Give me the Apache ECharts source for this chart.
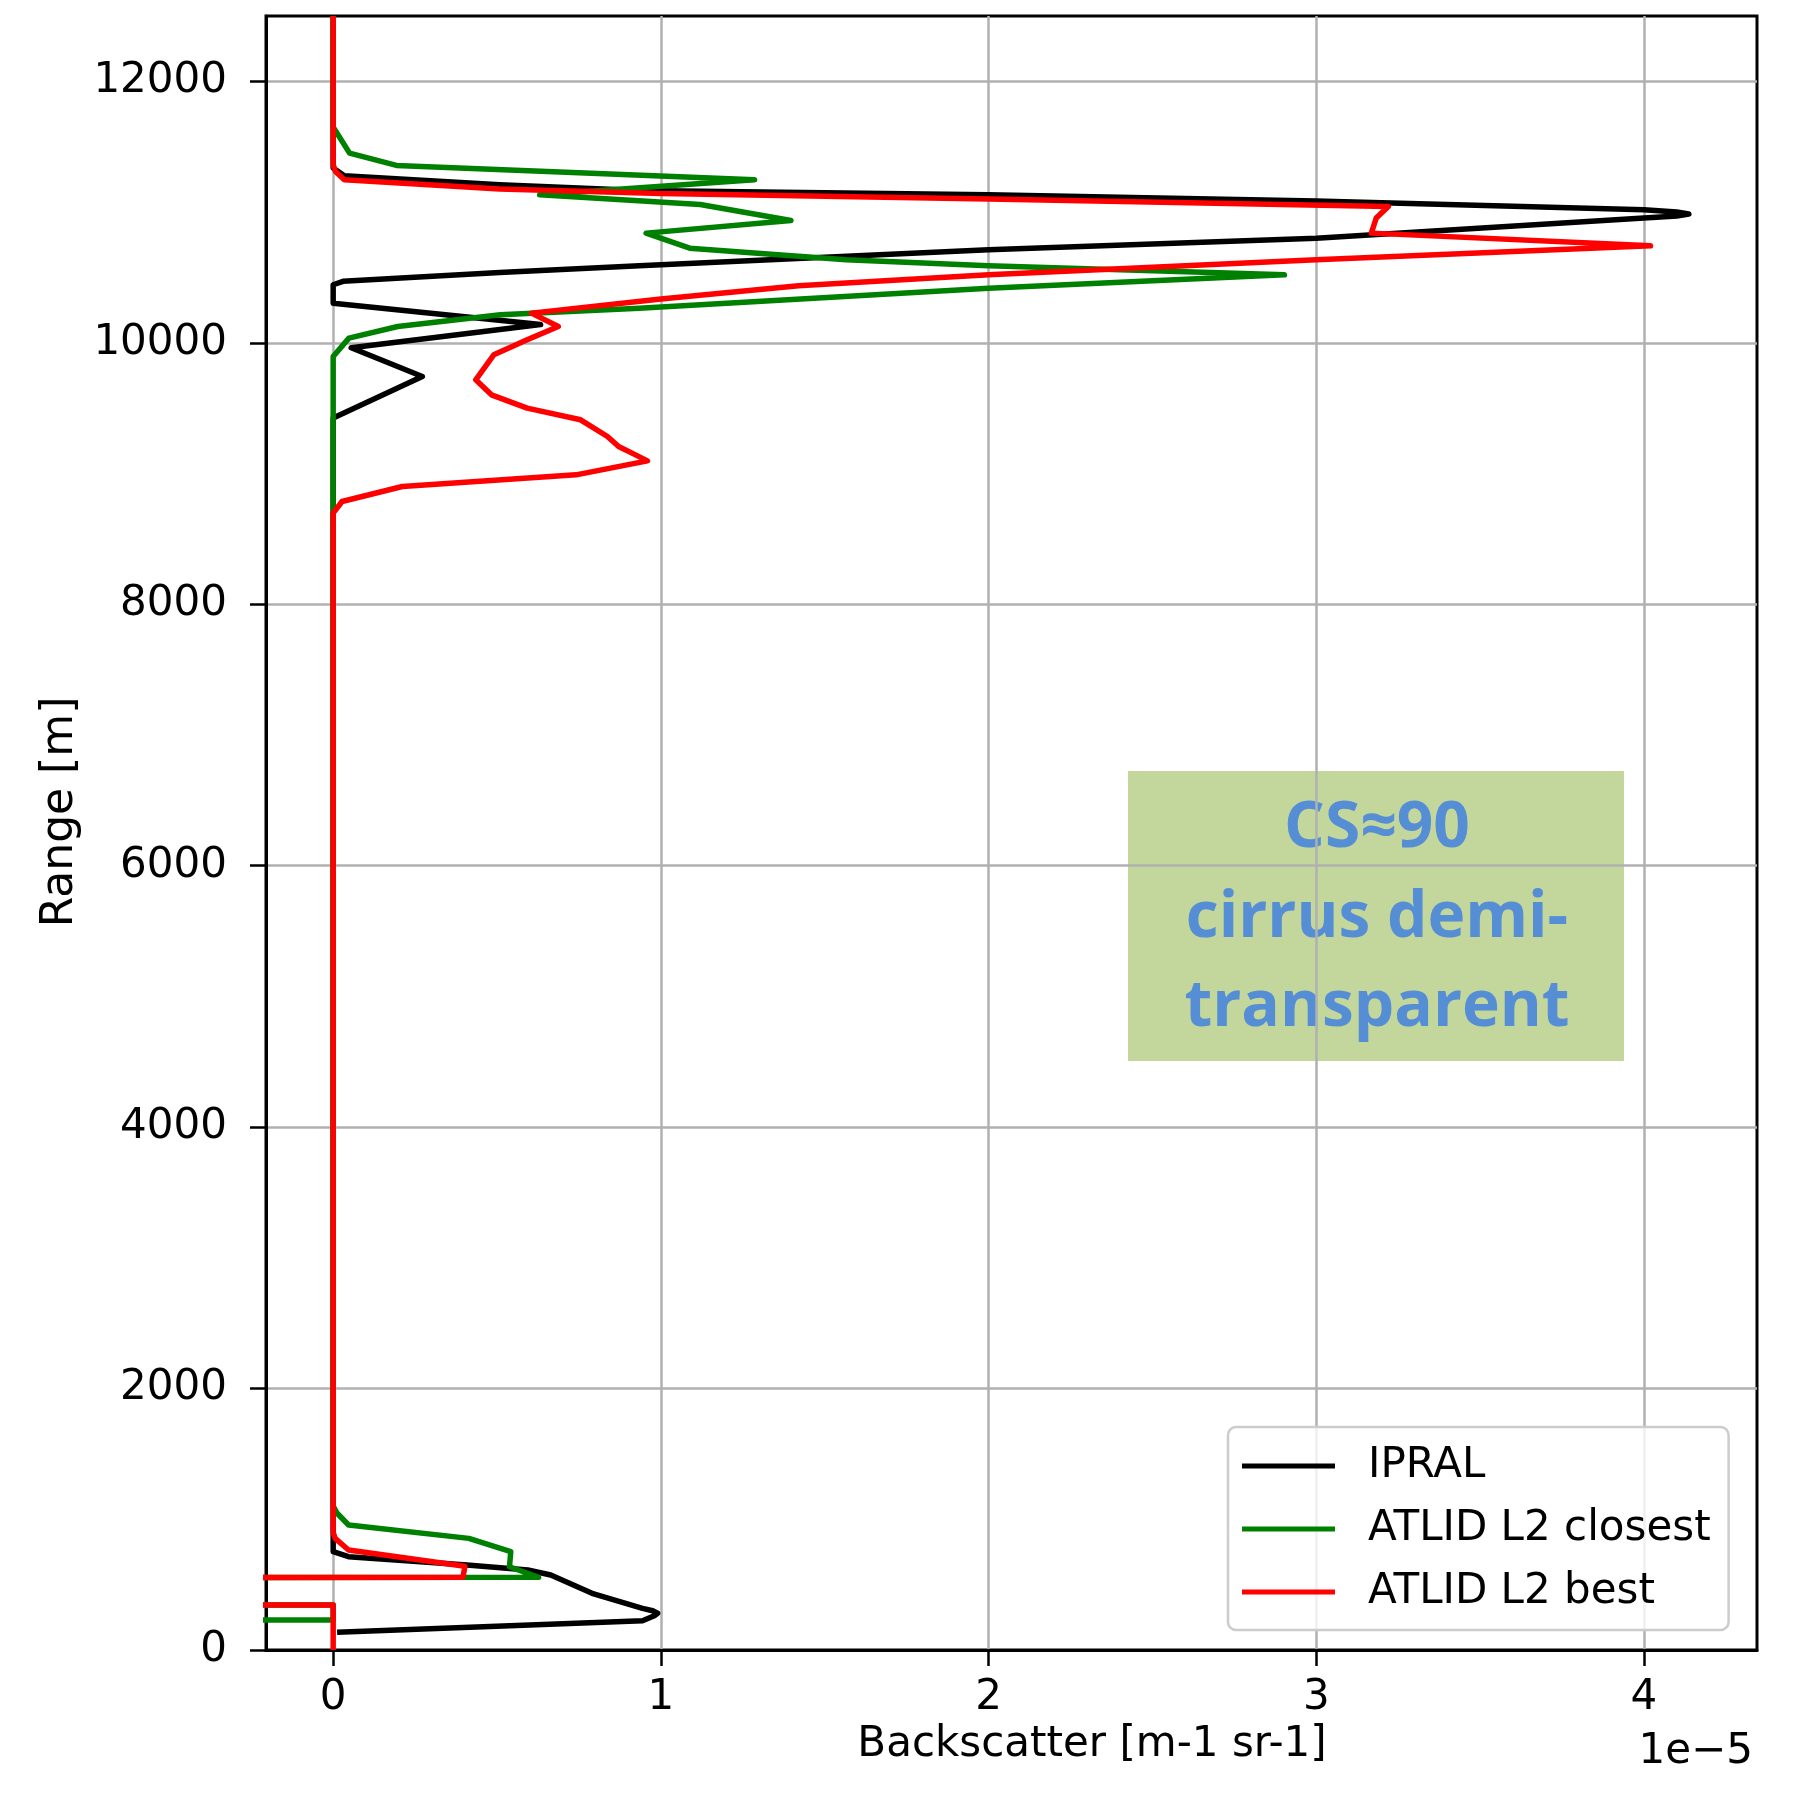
<!DOCTYPE html>
<html>
<head>
<meta charset="utf-8">
<script src="https://cdn.jsdelivr.net/npm/echarts@6/dist/echarts.min.js"></script>
<style>
  html, body { margin: 0; padding: 0; background: #ffffff; }
  #chart { width: 1807px; height: 1794px; }
</style>
</head>
<body>
<div id="chart"></div>
<script>
// Backscatter profiles (units of 1e-5 m-1 sr-1) versus range (m).
// Very negative values stand for samples far off the left edge of the axis.

// IPRAL ground lidar
const ipralRange = [135, 224, 262, 281, 300, 319, 434, 574, 612, 650, 714, 752, 829,
  9424, 9742, 9962, 10140, 10303, 10444, 10470, 10538, 10589, 10712, 10800,
  10954, 10970, 10985, 11000, 11018, 11085, 11132, 11165, 11209, 11278, 11337, 12500];
const ipralBsc = [0.012, 0.944, 0.98, 0.99, 0.975, 0.944, 0.79, 0.664, 0.594, 0.408, 0.047, 0.0, 0.0,
  0.0, 0.272, 0.055, 0.633, 0.0, 0.0, 0.03, 0.508, 0.934, 2.0, 3.0,
  4.0, 4.1, 4.137, 4.1, 4.0, 3.0, 2.0, 0.934, 0.508, 0.034, 0.0, 0.0];

// ATLID L2, closest profile
const closestRange = [130, 230, 344, 450, 556, 637, 752, 854, 956, 1046, 1100,
  9895, 10036, 10125, 10214, 10265, 10418, 10520, 10589, 10635, 10724, 10839,
  10936, 11058, 11132, 11247, 11357, 11451, 11610, 11650, 12500];
const closestBsc = [-50, 0.0, 0.0, -50, 0.627, 0.538, 0.542, 0.414, 0.047, 0.012, 0.0,
  0.0, 0.048, 0.197, 0.51, 0.934, 2.0, 2.903, 2.0, 1.565, 1.088, 0.955,
  1.397, 1.12, 0.63, 1.286, 0.193, 0.05, 0.01, 0.0, 0.0];

// ATLID L2, best profile
const bestRange = [0, 344, 450, 556, 640, 765, 854, 900,
  8697, 8786, 8901, 8990, 9097, 9156, 9207, 9283, 9411, 9500, 9602, 9717,
  9908, 10023, 10125, 10227, 10335, 10436, 10520, 10635, 10742, 10839, 10954,
  11043, 11100, 11142, 11176, 11247, 11311, 11362, 12500];
const bestBsc = [0.0, 0.0, -50, 0.396, 0.402, 0.047, 0.006, 0.0,
  0.0, 0.027, 0.211, 0.741, 0.959, 0.912, 0.871, 0.837, 0.755, 0.592, 0.483, 0.435,
  0.49, 0.592, 0.687, 0.605, 1.0, 1.42, 2.0, 3.0, 4.02, 3.168, 3.183,
  3.22, 2.0, 1.0, 0.508, 0.034, 0.007, 0.0, 0.0];

const seriesNames = ['IPRAL', 'ATLID L2 closest', 'ATLID L2 best'];
const seriesColors = ['#000000', '#008000', '#ff0000'];

const xTicks = [0, 1, 2, 3, 4];
const yTicks = [0, 2000, 4000, 6000, 8000, 10000, 12000];

const xLabel = 'Backscatter [m-1 sr-1]';
const yLabel = 'Range [m]';
const xScaleNote = '1e\u22125';
const noteLines = ['CS\u224890', 'cirrus demi-', 'transparent'];

function pairs(vals, ranges) {
  return vals.map((v, i) => [v, ranges[i]]);
}

const FONT = 'DejaVu Sans';
const chart = echarts.init(document.getElementById('chart'), null, { renderer: 'canvas' });

const profiles = [
  pairs(ipralBsc, ipralRange),
  pairs(closestBsc, closestRange),
  pairs(bestBsc, bestRange)
];

const option = {
  backgroundColor: '#ffffff',
  animation: false,
  grid: {
    left: 266, right: 50, top: 16, bottom: 144,
    show: true, borderColor: '#000000', borderWidth: 3,
    backgroundColor: 'transparent'
  },
  xAxis: {
    type: 'value',
    min: -0.205,
    max: 4.345,
    splitNumber: 5,
    axisLine: { show: true, onZero: false, lineStyle: { color: '#000', width: 3 } },
    axisTick: { show: true, length: 16, customValues: xTicks, lineStyle: { color: '#000', width: 2.5 } },
    axisLabel: {
      customValues: xTicks, fontSize: 42, fontFamily: FONT, color: '#000', margin: 27,
      formatter: v => String(v)
    },
    splitLine: { show: true, lineStyle: { color: '#b0b0b0', width: 2.5 } }
  },
  yAxis: {
    type: 'value',
    min: 0,
    max: 12500,
    interval: 2000,
    axisLine: { show: true, onZero: false, lineStyle: { color: '#000', width: 3 } },
    axisTick: { show: true, length: 16, customValues: yTicks, lineStyle: { color: '#000', width: 2.5 } },
    axisLabel: {
      customValues: yTicks, fontSize: 42, fontFamily: FONT, color: '#000', margin: 39,
      formatter: v => String(v)
    },
    splitLine: { show: true, lineStyle: { color: '#b0b0b0', width: 2.5 } }
  },
  legend: {
    orient: 'vertical',
    left: 1228,
    top: 1427,
    data: seriesNames,
    icon: 'rect',
    itemWidth: 93,
    itemHeight: 5,
    itemGap: 13,
    selectedMode: false,
    padding: [14, 18, 13, 14],
    backgroundColor: 'rgba(255,255,255,0.8)',
    borderColor: '#cccccc',
    borderWidth: 2.5,
    borderRadius: 8,
    textStyle: { fontSize: 42, fontFamily: FONT, color: '#000', lineHeight: 50, padding: [0, 0, 0, 28] }
  },
  series: profiles.map((data, i) => ({
    name: seriesNames[i],
    type: 'line',
    data: data,
    showSymbol: false,
    symbol: 'none',
    clip: true,
    color: seriesColors[i],
    lineStyle: { color: seriesColors[i], width: 5.5, join: 'round', cap: 'butt' },
    emphasis: { disabled: true },
    z: 2 + i
  })),
  graphic: [
    {
      type: 'text', x: 1092, y: 1745, z: 10,
      style: { text: xLabel, font: '42px "DejaVu Sans"', fill: '#000', align: 'center', verticalAlign: 'middle' }
    },
    {
      type: 'text', x: 61, y: 812, rotation: Math.PI / 2, z: 10,
      style: { text: yLabel, font: '44px "DejaVu Sans"', fill: '#000', align: 'center', verticalAlign: 'middle' }
    },
    {
      type: 'text', x: 1753, y: 1752, z: 10,
      style: { text: xScaleNote, font: '42px "DejaVu Sans"', fill: '#000', align: 'right', verticalAlign: 'middle' }
    },
    {
      type: 'group', x: 1128, y: 771, z: 20,
      children: [
        { type: 'rect', shape: { x: 0, y: 0, width: 496, height: 290 }, style: { fill: '#c3d69b' } },
        { type: 'text', x: 249, y: 58, style: { text: noteLines[0], font: 'bold 64px "Open Sans"', fill: '#558ed5', align: 'center', verticalAlign: 'middle' } },
        { type: 'text', x: 249, y: 148, style: { text: noteLines[1], font: 'bold 64px "Open Sans"', fill: '#558ed5', align: 'center', verticalAlign: 'middle' } },
        { type: 'text', x: 249, y: 237, style: { text: noteLines[2], font: 'bold 64px "Open Sans"', fill: '#558ed5', align: 'center', verticalAlign: 'middle' } }
      ]
    }
  ]
};

chart.setOption(option);
</script>
</body>
</html>
